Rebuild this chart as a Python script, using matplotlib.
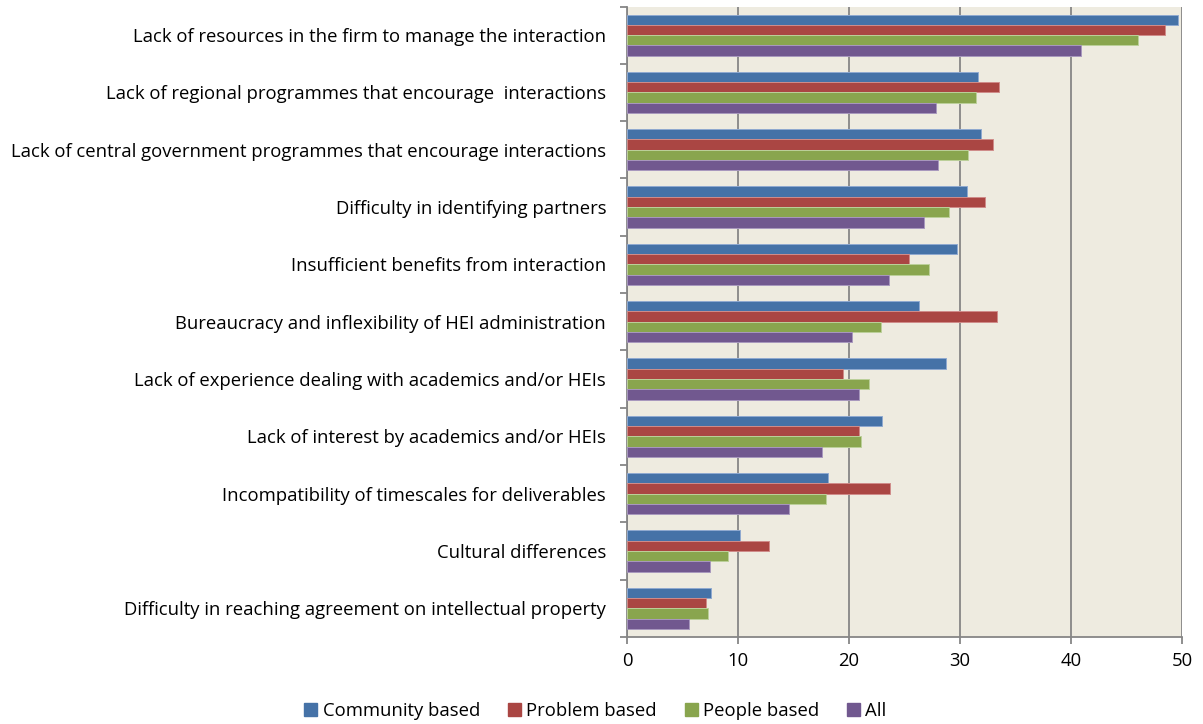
import matplotlib
matplotlib.use('Agg')
import matplotlib.pyplot as plt
from matplotlib.patches import Patch
from matplotlib.ticker import FixedLocator
import numpy as np

plt.rcParams['font.family'] = ['Open Sans', 'DejaVu Sans']

# Barriers to interaction, top to bottom
categories = [
    "Lack of resources in the firm to manage the interaction",
    "Lack of regional programmes that encourage  interactions",
    "Lack of central government programmes that encourage interactions",
    "Difficulty in identifying partners",
    "Insufficient benefits from interaction",
    "Bureaucracy and inflexibility of HEI administration",
    "Lack of experience dealing with academics and/or HEIs",
    "Lack of interest by academics and/or HEIs",
    "Incompatibility of timescales for deliverables",
    "Cultural differences",
    "Difficulty in reaching agreement on intellectual property",
]

community_based = [49.6, 31.6, 31.9, 30.6, 29.7, 26.3, 28.7, 23.0, 18.1, 10.2, 7.6]
problem_based = [48.5, 33.5, 33.0, 32.3, 25.4, 33.3, 19.5, 20.9, 23.7, 12.8, 7.1]
people_based = [46.0, 31.4, 30.7, 29.0, 27.2, 22.9, 21.8, 21.1, 17.9, 9.1, 7.3]
all_modes = [40.9, 27.8, 28.0, 26.8, 23.6, 20.3, 20.9, 17.6, 14.6, 7.5, 5.6]

series_names = ["Community based", "Problem based", "People based", "All"]
series = [community_based, problem_based, people_based, all_modes]
colors = ["#4572A7", "#AA4643", "#89A54E", "#71588F"]
edges = ["#8FA9D0", "#D08C8A", "#BCD09A", "#A898BE"]

grid_col = "#868686"
fs = 13.3

fig = plt.figure(figsize=(12.03, 7.24), dpi=100)
ax = fig.add_axes([0.5212, 0.1202, 0.4613, 0.8708])
ax.set_facecolor("#EEEBE0")

y = np.arange(len(categories))
h = 0.18
offsets = [-1.5 * h, -0.5 * h, 0.5 * h, 1.5 * h]
for vals, off, c, ec in zip(series, offsets, colors, edges):
    ax.barh(y + off, vals, height=h, color=c, edgecolor=ec, linewidth=0.7, zorder=3)

ax.set_xlim(0, 50)
ax.set_ylim(len(categories) - 0.5, -0.5)
ax.set_xticks(np.arange(0, 51, 10))
ax.xaxis.grid(True, color=grid_col, linewidth=1.3, zorder=1)

ax.set_yticks(y)
ax.set_yticklabels(categories, fontsize=fs)
ax.yaxis.set_minor_locator(FixedLocator(np.arange(-0.5, len(categories), 1)))
ax.tick_params(axis='y', which='major', length=0, pad=15)
ax.tick_params(axis='y', which='minor', length=5, width=1.3, color=grid_col, direction='out')
ax.tick_params(axis='x', length=5, width=1.3, color=grid_col, labelsize=fs, pad=6)

for side in ['top', 'right']:
    ax.spines[side].set_visible(False)
for side in ['left', 'bottom']:
    ax.spines[side].set_color(grid_col)
    ax.spines[side].set_linewidth(1.3)

handles = [Patch(facecolor=c, edgecolor=c) for c in colors]
fig.legend(handles, series_names, loc='center', bbox_to_anchor=(0.495, 0.018), ncol=4,
           frameon=False, fontsize=fs, handlelength=0.7, handleheight=0.7,
           handletextpad=0.3, columnspacing=1.5)

fig.savefig("out.png", dpi=100, facecolor='white')
